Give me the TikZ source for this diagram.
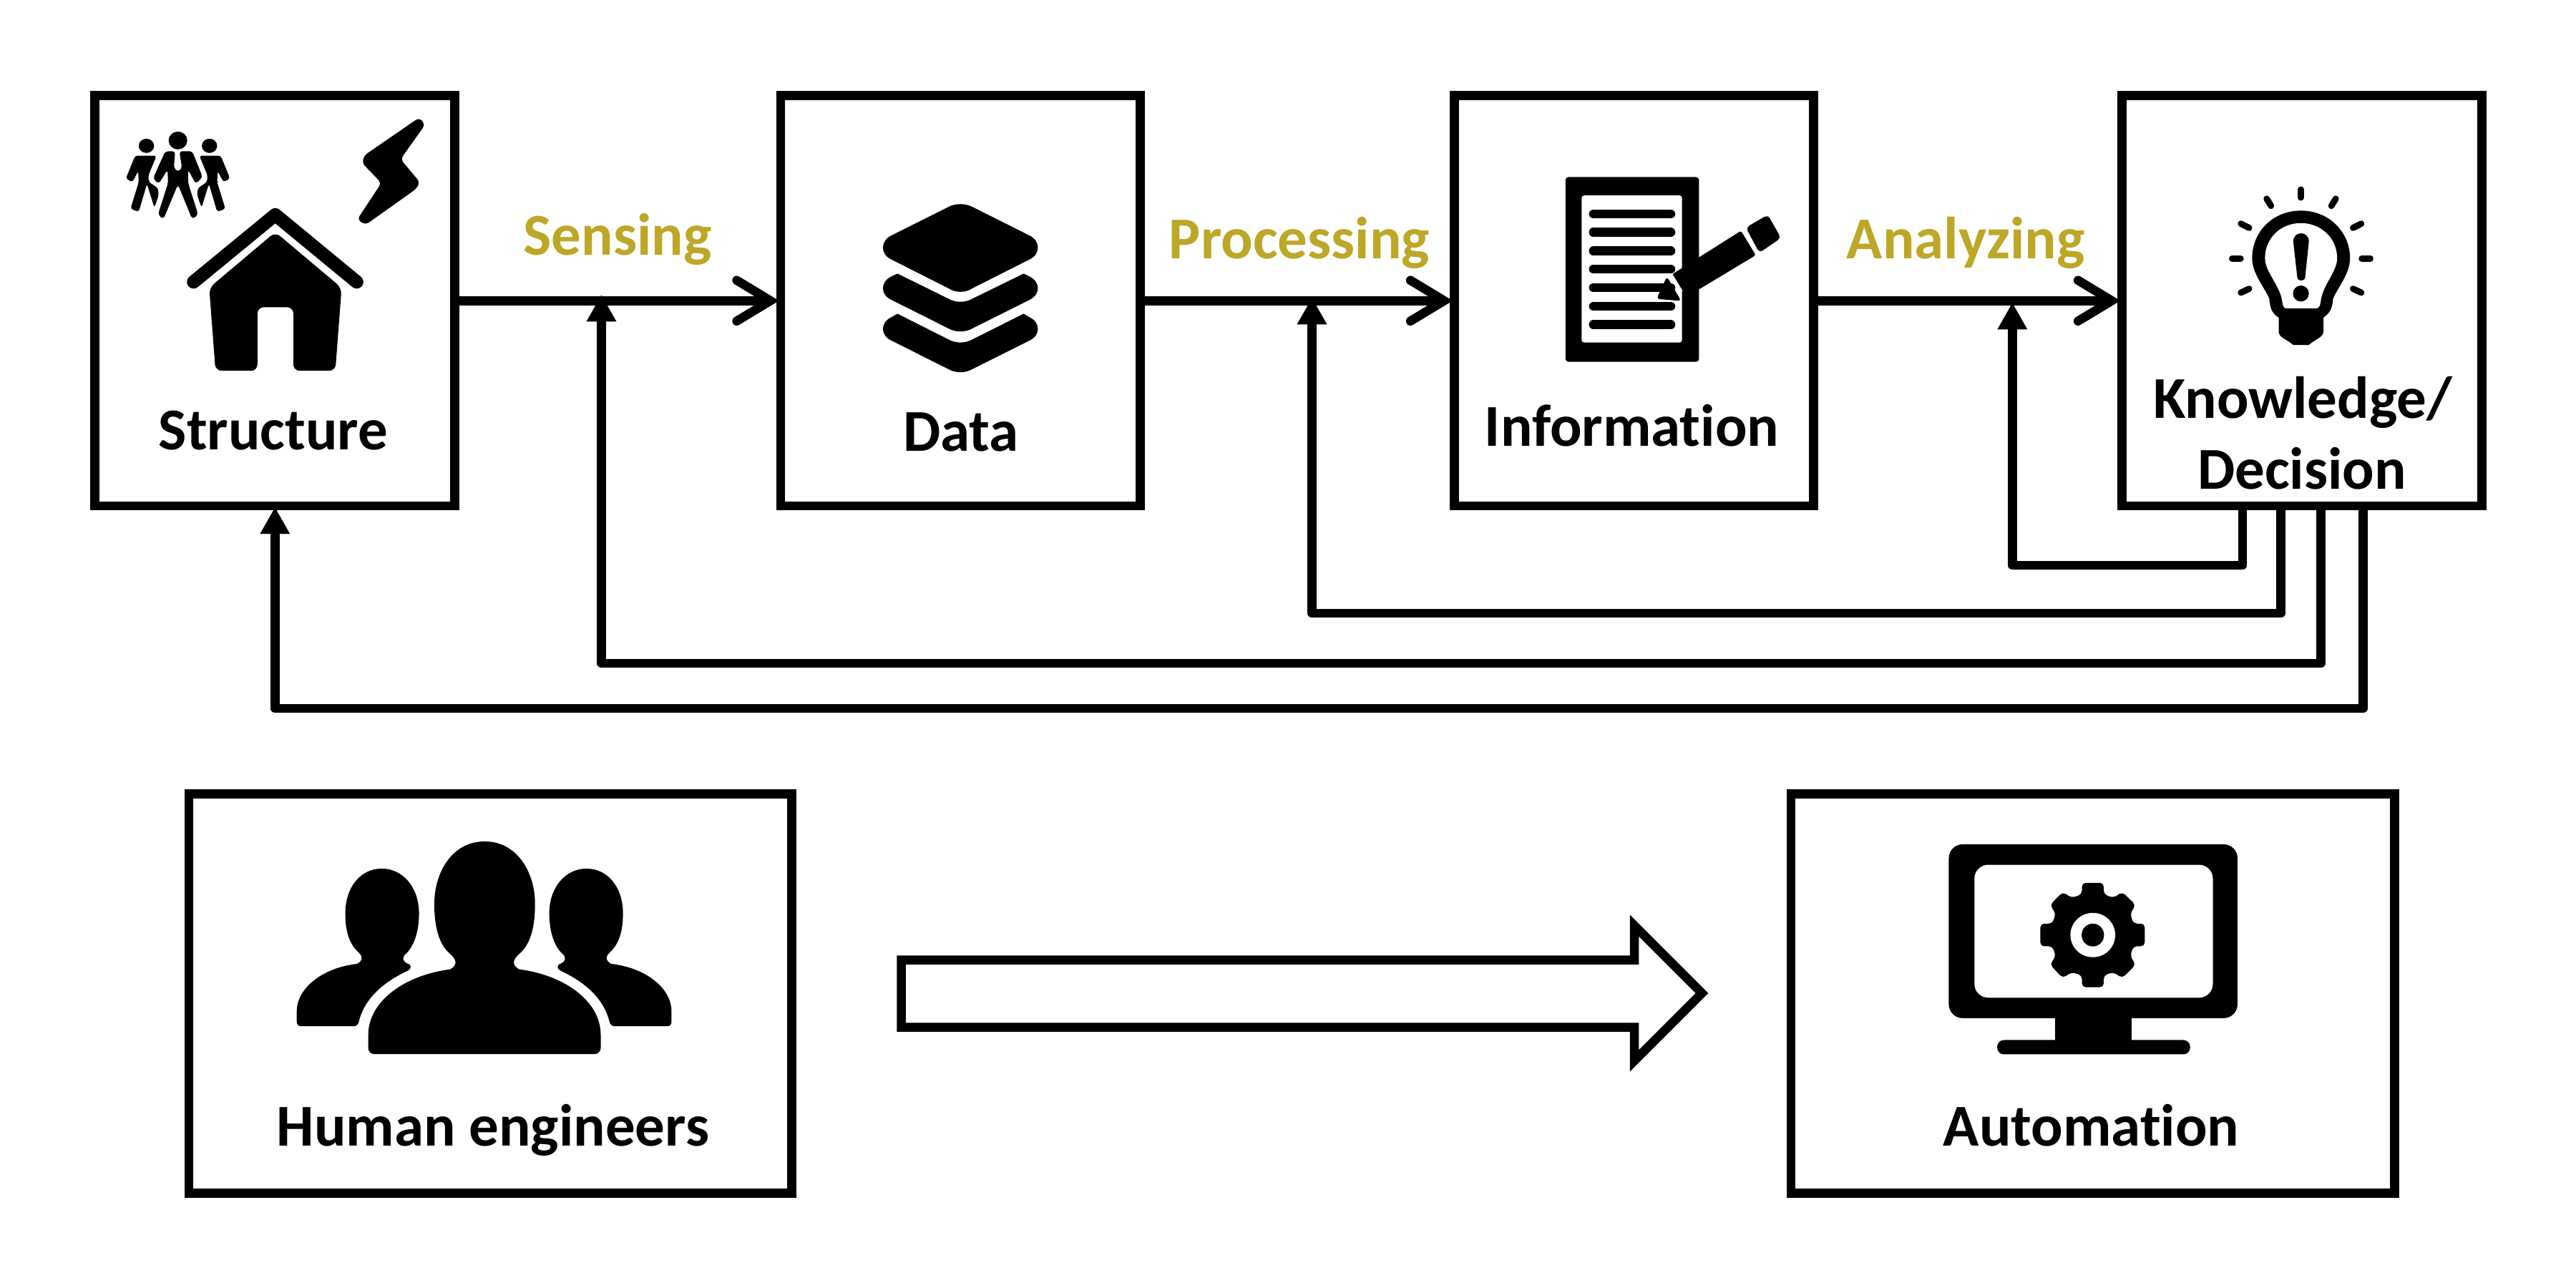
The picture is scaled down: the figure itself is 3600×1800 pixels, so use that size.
\documentclass[tikz,border=0pt]{standalone}
\usepackage{fontspec}
\setmainfont{Carlito}[Ligatures=NoCommon]
\usetikzlibrary{arrows.meta}
\definecolor{goldlab}{HTML}{BDA727}
\tikzset{
  box/.style={draw=black,line width=3.56pt,rectangle,minimum height=5.735cm,inner sep=0pt},
  lowbox/.style={draw=black,line width=3.56pt,rectangle,minimum height=5.58cm,inner sep=0pt},
  lab/.style={font=\fontsize{23.6pt}{27pt}\selectfont\bfseries,anchor=base,inner sep=0pt,text=black},
  flow/.style={font=\fontsize{23.6pt}{27pt}\selectfont\bfseries,anchor=base,inner sep=0pt,text=goldlab},
  conn/.style={line width=3.56pt,shorten >=-1.2pt,-{Straight Barb[length=13.4pt,width=16.2pt,line width=3.56pt,line cap=round,line join=miter]}},
  fb/.style={line width=3.56pt,line join=round,-{Triangle[length=10.7pt,width=11.1pt]}},
  ray/.style={line width=2.5pt,line cap=round},
  docline/.style={line width=3.6pt,line cap=round},
  zA/.style={shift={(100,100)},x=.0038265cm,y=-.0041459cm},
  zB/.style={shift={(1050,100)},x=.0038265cm,y=-.0041459cm},
  zC/.style={shift={(2000,100)},x=.0038265cm,y=-.0041459cm},
  zD/.style={shift={(2950,100)},x=.0038265cm,y=-.0041459cm},
  zE/.style={shift={(300,1130)},x=.005102cm,y=-.0033333cm},
  zF/.style={shift={(2600,1130)},x=.004464cm,y=-.0033333cm},
}
\begin{document}
\begin{tikzpicture}[x=.01cm,y=-.01cm]
\useasboundingbox (0,0) rectangle (3600,1800);
\fill[white] (0,0) rectangle (3600,1800);
\coordinate (c4) at (384.3,990);
\coordinate (t4) at (384.3,708.6);
\coordinate (c3) at (840.5,927);
\coordinate (t3) at (840.5,411.7);
\coordinate (c2) at (1833.5,857);
\coordinate (t2) at (1833.5,415.7);
\coordinate (c1) at (2812.3,790);
\coordinate (t1) at (2812.3,422.7);
\coordinate (k1) at (3133.8,707);
\coordinate (k2) at (3187.4,707);
\coordinate (k3) at (3243.7,707);
\coordinate (k4) at (3302.6,707);
% boxes
\node[box,minimum width=5.03cm]  (s) at (384,420.25) {};
\node[box,minimum width=5.025cm] (d) at (1342.25,420.25) {};
\node[box,minimum width=5.02cm]  (i) at (2283.5,420.25) {};
\node[box,minimum width=5.03cm]  (k) at (3217,420.25) {};
\node[lowbox,minimum width=8.42cm] (h) at (685,1388.5) {};
\node[lowbox,minimum width=8.43cm] (a) at (2924.5,1388.5) {};
% connectors
\draw[conn] (s.east) -- (d.west);
\draw[conn] (d.east) -- (i.west);
\draw[conn] (i.east) -- (k.west);
\draw[fb] (k1) |- (c1) -- (t1);
\draw[fb] (k2) |- (c2) -- (t2);
\draw[fb] (k3) |- (c3) -- (t3);
\draw[fb] (k4) |- (c4) -- (t4);
% labels
\node[lab] (ls) at (382,628.6) {Structure};
\node[lab] (ld) at (1343,630.7) {Data};
\node[lab] (li) at (2280.5,623.6) {Information};
\node[lab] (lk) at (3218,584) {Knowledge/};
\node[lab] (ldc) at (3217,683.7) {Decision};
\node[lab] (lh) at (689,1601.7) {Human engineers};
\node[lab] (la) at (2922.5,1601) {Automation};
\node[flow] (f1) at (863,356) {Sensing};
\node[flow] (f2) at (1816,361) {Processing};
\node[flow] (f3) at (2747,361.7) {Analyzing};
% big hollow arrow
\draw[line width=3.56pt,miter limit=10,fill=white] (1259.5,1341.5) -- (2284,1341.5) -- (2284,1293.5) -- (2378.5,1388) -- (2284,1482.5) -- (2284,1435.5) -- (1259.5,1435.5) -- cycle;
% ---- structure icons
\begin{scope}[zA]
\fill[rounded corners=1.5pt] (1268,155) -- (1290,178) -- (1200,295) -- (1270,372) -- (1258,394) -- (1072,516) -- (1042,498) -- (1130,375) -- (1060,308) -- (1068,282) -- cycle;
\draw[line width=5.3pt,line cap=round,line join=round] (445,708) -- (743,482) -- (1040,708);
\fill[rounded corners=2.5pt] (743,540) -- (985,728) -- (962,1007) -- (809,1007) -- (809,793) -- (678,793) -- (678,1007) -- (525,1007) -- (502,728) -- cycle;
% people
\fill (388,232) ellipse [x radius=34,y radius=30];
\fill[rounded corners=1.2pt] (378,268) -- (342,268) -- (297,360) -- (318,378) -- (350,330) -- (352,375) -- (315,482) -- (335,497) -- (388,380) -- (440,497) -- (462,482) -- (425,375) -- (425,330) -- (453,378) -- (478,355) -- (440,268) -- (393,268) -- (403,325) -- (388,338) -- (373,325) -- cycle;
\fill (273,250) ellipse [x radius=28,y radius=24];
\fill[rounded corners=1pt] (232,283) -- (310,283) -- (280,350) -- (282,372) -- (315,392) -- (318,415) -- (302,458) -- (275,378) -- (245,472) -- (215,462) -- (245,372) -- (243,335) -- (222,372) -- (198,360) -- cycle;
\fill (503,250) ellipse [x radius=28,y radius=24];
\fill[rounded corners=1pt] (544,283) -- (466,283) -- (496,350) -- (494,372) -- (461,392) -- (458,415) -- (474,458) -- (501,378) -- (531,472) -- (561,462) -- (531,372) -- (533,335) -- (554,372) -- (578,360) -- cycle;
\end{scope}
% ---- data icon
\begin{scope}[zB]
\fill (510,552) -- (720,455) .. controls (745,443) and (780,443) .. (805,455) -- (1015,552) .. controls (1055,570) and (1055,615) .. (1015,632) -- (805,730) .. controls (780,745) and (745,745) .. (720,730) -- (510,632) .. controls (470,615) and (470,570) .. (510,552) -- cycle;
\fill (533,680) -- (720,765) .. controls (745,778) and (780,778) .. (805,765) -- (993,680) -- (1015,690) .. controls (1055,708) and (1055,750) .. (1015,768) -- (805,865) .. controls (780,878) and (745,878) .. (720,865) -- (510,768) .. controls (470,750) and (470,708) .. (510,690) -- cycle;
\fill (533,815) -- (720,902) .. controls (745,915) and (780,915) .. (805,902) -- (993,815) -- (1015,827) .. controls (1055,845) and (1055,887) .. (1015,905) -- (805,1002) .. controls (780,1015) and (745,1015) .. (720,1002) -- (510,905) .. controls (470,887) and (470,845) .. (510,827) -- cycle;
\end{scope}
% ---- document icon
\begin{scope}[zC]
\fill[rounded corners=1.2pt] (490,355) rectangle (977,977);
\fill[white,rounded corners=1pt] (549,417) rectangle (915,912);
\foreach \yy in {479,541,604,665,727,790,852} \draw[docline] (592,\yy) -- (874,\yy);
\fill[rounded corners=1.2pt] (822,765) -- (860,690) -- (912,772) -- cycle;
\fill[rounded corners=.8pt] (878,683) -- (1130,536) -- (1184,618) -- (977,733) -- (915,745) -- cycle;
\draw[white,line width=1.2pt] (874,682) -- (913,741);
\fill[rounded corners=1.5pt] (1148,525) -- (1228,482) -- (1276,560) -- (1197,610) -- cycle;
\end{scope}
% ---- bulb icon
\begin{scope}[zD]
\draw[ray] (693,397) -- (693,424);
\draw[ray] (568,428) -- (584,452);
\draw[ray] (820,428) -- (804,452);
\draw[ray] (474,512) -- (504,526);
\draw[ray] (913,512) -- (883,526);
\draw[ray] (442,629) -- (473,629);
\draw[ray] (915,629) -- (946,629);
\draw[ray] (474,744) -- (504,731);
\draw[ray] (913,744) -- (883,731);
\fill (693,468) .. controls (590,468) and (515,540) .. (515,628) .. controls (515,680) and (560,725) .. (578,765) .. controls (580,800) and (590,815) .. (612,828) -- (612,875) .. controls (612,895) and (640,900) .. (665,920) -- (722,920) .. controls (745,900) and (775,895) .. (775,875) -- (775,828) .. controls (795,815) and (808,800) .. (810,765) .. controls (828,725) and (872,680) .. (872,628) .. controls (872,540) and (795,468) .. (693,468) -- cycle;
\fill[white] (693,510) .. controls (620,510) and (562,560) .. (562,628) .. controls (562,675) and (618,720) .. (625,775) .. controls (627,790) and (632,797) .. (640,797) -- (748,797) .. controls (757,797) and (763,790) .. (765,775) .. controls (770,720) and (825,675) .. (825,628) .. controls (825,560) and (765,510) .. (693,510) -- cycle;
\fill (665,572) .. controls (665,535) and (722,535) .. (722,572) -- (708,695) .. controls (706,706) and (682,706) .. (680,695) -- cycle;
\fill (693,747) ellipse [x radius=29,y radius=27];
\end{scope}
% ---- human engineers icon
\begin{scope}[zE]
\fill (458,252) .. controls (400,252) and (358,330) .. (358,440) .. controls (358,520) and (370,570) .. (395,605) .. controls (408,625) and (405,640) .. (390,652) .. controls (290,670) and (225,760) .. (225,850) -- (225,895) .. controls (225,908) and (230,914) .. (238,914) -- (380,914) .. controls (390,914) and (393,905) .. (395,895) .. controls (410,800) and (460,730) .. (530,680) .. controls (540,672) and (540,655) .. (527,650) .. controls (515,640) and (512,625) .. (525,608) .. controls (548,575) and (560,510) .. (560,440) .. controls (560,330) and (515,252) .. (458,252) -- cycle;
\fill (1019,252) .. controls (1077,252) and (1119,330) .. (1119,440) .. controls (1119,520) and (1107,570) .. (1082,605) .. controls (1069,625) and (1072,640) .. (1087,652) .. controls (1187,670) and (1252,760) .. (1252,850) -- (1252,895) .. controls (1252,908) and (1247,914) .. (1239,914) -- (1097,914) .. controls (1087,914) and (1084,905) .. (1082,895) .. controls (1067,800) and (1017,730) .. (947,680) .. controls (937,672) and (937,655) .. (950,650) .. controls (962,640) and (965,625) .. (952,608) .. controls (929,575) and (917,510) .. (917,440) .. controls (917,330) and (962,252) .. (1019,252) -- cycle;
\fill (740,138) .. controls (650,138) and (602,270) .. (602,400) .. controls (602,500) and (615,570) .. (645,610) .. controls (665,635) and (665,660) .. (645,675) .. controls (520,700) and (421,810) .. (421,950) -- (421,1005) .. controls (421,1020) and (428,1031) .. (438,1031) -- (1040,1031) .. controls (1050,1031) and (1058,1020) .. (1058,1005) -- (1058,950) .. controls (1058,810) and (960,700) .. (835,675) .. controls (815,660) and (815,635) .. (835,610) .. controls (865,570) and (878,500) .. (878,400) .. controls (878,270) and (830,138) .. (740,138) -- cycle;
\end{scope}
% ---- monitor icon
\begin{scope}[zF]
\fill[rounded corners=5.5pt] (276,150) rectangle (1178,880);
\fill[white,rounded corners=5.5pt] (356,236) rectangle (1101,794);
\fill (607,870) rectangle (847,985);
\fill[rounded corners=2.7pt] (427,972) rectangle (1030,1032);
\fill[rounded corners=1.5pt] (692,360) -- (692,312) -- (760,312) -- (760,360) -- (790,375) -- (818,350) -- (860,405) -- (843,440) -- (852,483) -- (888,483) -- (888,578) -- (852,578) -- (843,620) -- (860,655) -- (818,712) -- (790,687) -- (760,700) -- (760,750) -- (692,750) -- (692,700) -- (660,687) -- (632,712) -- (592,655) -- (610,620) -- (600,578) -- (562,578) -- (562,483) -- (600,483) -- (610,440) -- (592,405) -- (632,350) -- (660,375) -- cycle;
\fill[white] (726,531) ellipse [x radius=70,y radius=93];
\fill (726,531) ellipse [x radius=35,y radius=48];
\end{scope}
\end{tikzpicture}
\end{document}
